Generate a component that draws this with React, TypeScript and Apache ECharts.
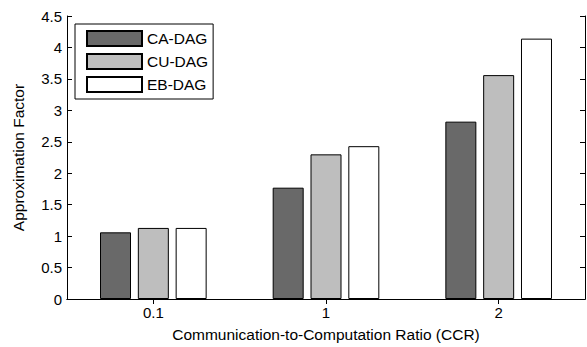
import React, { useEffect, useRef } from "react";
import * as echarts from "echarts";

const categories = ["0.1", "1", "2"];
const caDag = [1.06, 1.77, 2.82];
const cuDag = [1.13, 2.3, 3.56];
const ebDag = [1.13, 2.43, 4.14];

const FONT = "'Liberation Sans', Arial, Helvetica, sans-serif";

export default function App() {
  const ref = useRef<HTMLDivElement>(null);
  useEffect(() => {
    document.body.style.margin = "0";
    const chart = echarts.init(ref.current!, undefined, { renderer: "svg" });
    const tickLabel = { color: "#000", fontFamily: FONT, fontSize: 15 };
    const axisLine = { show: true, lineStyle: { color: "#000", width: 1 } };
    chart.setOption({
      animation: false,
      backgroundColor: "#fff",
      grid: { left: 67, right: 2, top: 16, bottom: 42, containLabel: false },
      legend: {
        left: 75,
        top: 24,
        orient: "vertical",
        icon: "rect",
        itemWidth: 55,
        itemHeight: 15,
        itemGap: 6,
        padding: [6, 5, 6, 11],
        borderColor: "#000",
        borderWidth: 1,
        backgroundColor: "#fff",
        textStyle: { color: "#000", fontFamily: FONT, fontSize: 15.5 },
        data: ["CA-DAG", "CU-DAG", "EB-DAG"],
      },
      xAxis: [
        {
          type: "category",
          data: categories,
          position: "bottom",
          name: "Communication-to-Computation Ratio (CCR)",
          nameLocation: "middle",
          nameGap: 27,
          nameTextStyle: { color: "#000", fontFamily: FONT, fontSize: 15.5 },
          axisLine,
          axisTick: { show: true, inside: true, length: 5, alignWithLabel: true, lineStyle: { color: "#000" } },
          axisLabel: { ...tickLabel, margin: 6 },
          splitLine: { show: false },
        },
        {
          type: "category",
          data: categories,
          position: "top",
          axisLine,
          axisTick: { show: true, inside: true, length: 5, alignWithLabel: true, lineStyle: { color: "#000" } },
          axisLabel: { show: false },
          splitLine: { show: false },
        },
      ],
      yAxis: [
        {
          type: "value",
          min: 0,
          max: 4.5,
          interval: 0.5,
          position: "left",
          name: "Approximation Factor",
          nameLocation: "middle",
          nameGap: 41,
          nameTextStyle: { color: "#000", fontFamily: FONT, fontSize: 15.5 },
          axisLine,
          axisTick: { show: true, inside: true, length: 5, lineStyle: { color: "#000" } },
          axisLabel: { ...tickLabel, margin: 5 },
          splitLine: { show: false },
        },
        {
          type: "value",
          min: 0,
          max: 4.5,
          interval: 0.5,
          position: "right",
          axisLine,
          axisTick: { show: true, inside: true, length: 5, lineStyle: { color: "#000" } },
          axisLabel: { show: false },
          splitLine: { show: false },
        },
      ],
      series: [
        {
          name: "CA-DAG",
          type: "bar",
          data: caDag,
          barWidth: 31,
          barGap: "22%",
          itemStyle: { color: "#696969", borderColor: "#000", borderWidth: 1 },
        },
        {
          name: "CU-DAG",
          type: "bar",
          data: cuDag,
          barWidth: 31,
          barGap: "22%",
          itemStyle: { color: "#bebebe", borderColor: "#000", borderWidth: 1 },
        },
        {
          name: "EB-DAG",
          type: "bar",
          data: ebDag,
          barWidth: 31,
          barGap: "22%",
          itemStyle: { color: "#ffffff", borderColor: "#000", borderWidth: 1 },
        },
      ],
    });
    return () => chart.dispose();
  }, []);
  return <div ref={ref} style={{ width: 587, height: 347 }} />;
}
